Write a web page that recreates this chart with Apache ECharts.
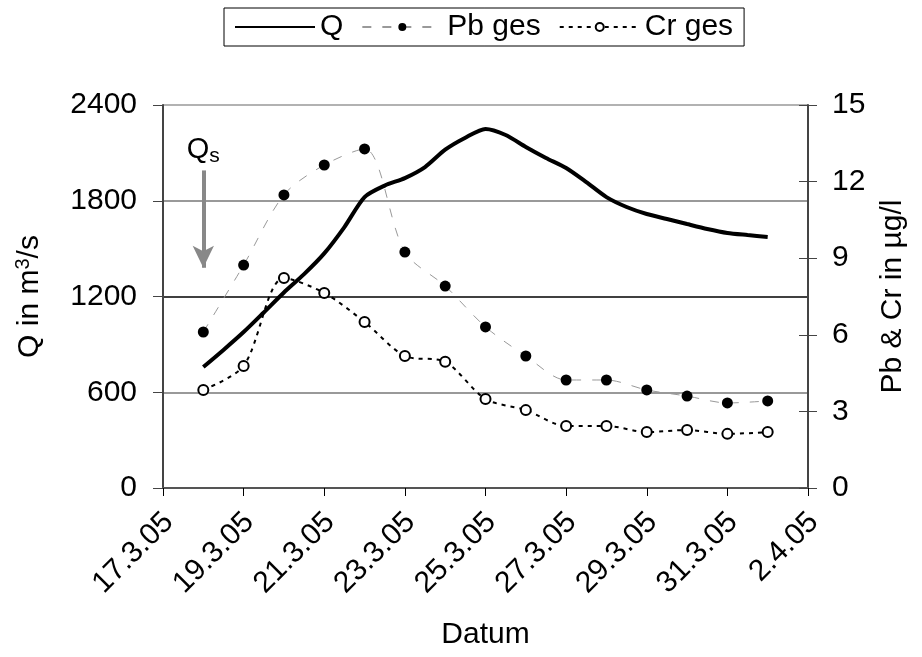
<!DOCTYPE html>
<html>
<head>
<meta charset="utf-8">
<script src="https://cdn.jsdelivr.net/npm/echarts@6/dist/echarts.min.js"></script>
<style>
html,body{margin:0;padding:0;background:#fff;}
#chart{width:922px;height:657px;}
</style>
</head>
<body>
<div id="chart"></div>
<script>
// ---- data ----
const startDate = '17.3.05';
const xTickLabels = ['17.3.05','19.3.05','21.3.05','23.3.05','25.3.05','27.3.05','29.3.05','31.3.05','2.4.05'];
const sampleDates = ['18.3.05','19.3.05','20.3.05','21.3.05','22.3.05','23.3.05','24.3.05','25.3.05','26.3.05','27.3.05','28.3.05','29.3.05','30.3.05','31.3.05','1.4.05'];
const pbValues = [6.11, 8.73, 11.48, 12.65, 13.28, 9.24, 7.91, 6.31, 5.17, 4.23, 4.23, 3.84, 3.60, 3.33, 3.41];
const crValues = [3.84, 4.78, 8.22, 7.64, 6.50, 5.17, 4.94, 3.49, 3.05, 2.43, 2.43, 2.19, 2.27, 2.12, 2.19];
const qTimes = ['18.3.05 00:00','18.3.05 12:00','19.3.05 00:00','19.3.05 12:00','20.3.05 00:00','20.3.05 12:00',
  '21.3.05 00:00','21.3.05 12:00','22.3.05 00:00','22.3.05 12:00','23.3.05 00:00','23.3.05 12:00',
  '24.3.05 00:00','24.3.05 12:00','25.3.05 00:00','25.3.05 12:00','26.3.05 00:00','26.3.05 12:00',
  '27.3.05 00:00','27.3.05 12:00','28.3.05 00:00','28.3.05 12:00','29.3.05 00:00','29.3.05 12:00',
  '30.3.05 00:00','30.3.05 12:00','31.3.05 00:00','31.3.05 12:00','1.4.05 00:00'];
const qValues = [758, 865, 977, 1100, 1225, 1340, 1470, 1635, 1823, 1895, 1942, 2011, 2120, 2195, 2250,
  2212, 2137, 2068, 2005, 1917, 1823, 1761, 1717, 1686, 1654, 1623, 1598, 1585, 1573];
const qsDate = '18.3.05';
const qsArrowFrom = 1990;
const qsArrowTo = 1380;

// ---- helpers ----
function toMs(s) {
  const parts = s.split(' ');
  const dm = parts[0].split('.');
  let hh = 0, mm = 0;
  if (parts[1]) { const t = parts[1].split(':'); hh = +t[0]; mm = +t[1]; }
  return Date.UTC(2000 + (+dm[2]), +dm[1] - 1, +dm[0], hh, mm);
}
const t0 = toMs(startDate);
const dayOff = s => (toMs(s) - t0) / 86400000;

const FONT = '"Liberation Sans", Arial, sans-serif';
const FS = 30;
const chart = echarts.init(document.getElementById('chart'));

chart.setOption({
  backgroundColor: '#fff',
  animation: false,
  textStyle: { fontFamily: FONT, color: '#000' },
  legend: {
    top: 8, left: 224,
    borderColor: '#000', borderWidth: 1,
    padding: [4, 11, 4, 10],
    itemWidth: 80, itemHeight: 10, itemGap: 18,
    textStyle: { fontSize: FS, color: '#000', fontFamily: FONT },
    data: [
      { name: 'Q', itemStyle: { opacity: 0 } },
      { name: 'Pb ges' },
      { name: 'Cr ges' }
    ]
  },
  grid: { left: 163, right: 114, top: 105, bottom: 169 },
  xAxis: {
    type: 'value', min: 0, max: 16, interval: 2,
    name: 'Datum', nameLocation: 'middle', nameGap: 132,
    nameTextStyle: { fontSize: FS, color: '#000' },
    axisLine: { lineStyle: { color: '#555', width: 2 } },
    axisTick: { show: true, length: 8, lineStyle: { color: '#000', width: 1 } },
    axisLabel: {
      rotate: 45, fontSize: FS, color: '#000', margin: 24, verticalAlign: 'top', lineHeight: 16,
      formatter: v => xTickLabels[Math.round(v / 2)] || ''
    },
    splitLine: { show: false }
  },
  yAxis: [
    {
      type: 'value', min: 0, max: 2400, interval: 600, position: 'left',
      name: 'Q in m{sup|3}/s', nameLocation: 'middle', nameGap: 116, nameRotate: 90,
      nameTextStyle: { fontSize: FS, color: '#000', rich: { sup: { fontSize: 20, verticalAlign: 'top', padding: [0, 0, 14, 0] } } },
      axisLine: { show: true, lineStyle: { color: '#444', width: 2 } },
      axisTick: { show: true, length: 10, lineStyle: { color: '#444' } },
      axisLabel: { fontSize: FS, color: '#000', margin: 26, formatter: v => String(v) },
      splitLine: { show: true, lineStyle: { color: ['#666', '#777', '#000', '#777', '#999'], width: 1.5 } }
    },
    {
      type: 'value', min: 0, max: 15, interval: 3, position: 'right',
      name: 'Pb & Cr in µg/l', nameLocation: 'middle', nameGap: 70, nameRotate: 90,
      nameTextStyle: { fontSize: FS, color: '#000' },
      axisLine: { show: true, lineStyle: { color: '#444', width: 2 } },
      axisTick: { show: true, length: 9, lineStyle: { color: '#444' } },
      axisLabel: { fontSize: FS, color: '#000', margin: 24 },
      splitLine: { show: false }
    },
    {
      type: 'value', min: 0, max: 15, interval: 3, position: 'right',
      axisLine: { show: false },
      axisTick: { show: true, inside: true, length: 9, lineStyle: { color: '#444' } },
      axisLabel: { show: false },
      splitLine: { show: false }
    }
  ],
  series: [
    {
      name: 'Q', type: 'line', yAxisIndex: 0,
      data: qTimes.map((t, i) => [dayOff(t), qValues[i]]),
      smooth: 0.25, showSymbol: false, symbol: 'none',
      lineStyle: { color: '#000', width: 4 },
      itemStyle: { color: '#000' },
      z: 5,
      markLine: {
        silent: true, symbol: ['none', 'arrow'], symbolSize: [16, 22],
        lineStyle: { color: '#888', width: 4, type: 'solid' },
        label: {
          show: true, position: 'start', distance: 4,
          formatter: '{q|Q}{s|s}',
          rich: {
            q: { fontSize: 29, color: '#000', fontFamily: FONT },
            s: { fontSize: 21, color: '#000', fontFamily: FONT, padding: [12, 0, 0, 0] }
          }
        },
        data: [[{ coord: [dayOff(qsDate), qsArrowFrom] }, { coord: [dayOff(qsDate), qsArrowTo] }]]
      }
    },
    {
      name: 'Pb ges', type: 'line', yAxisIndex: 1,
      data: sampleDates.map((d, i) => [dayOff(d), pbValues[i]]),
      smooth: 0.3, symbol: 'circle', symbolSize: 11,
      lineStyle: { color: '#999', width: 1, type: [9, 11] },
      itemStyle: { color: '#000', borderColor: '#000', borderWidth: 0 },
      z: 3
    },
    {
      name: 'Cr ges', type: 'line', yAxisIndex: 1,
      data: sampleDates.map((d, i) => [dayOff(d), crValues[i]]),
      smooth: 0.3, symbol: 'circle', symbolSize: 10,
      lineStyle: { color: '#000', width: 2, type: [4, 5] },
      itemStyle: { color: '#fff', borderColor: '#000', borderWidth: 2 },
      z: 4
    }
  ]
});
</script>
</body>
</html>
